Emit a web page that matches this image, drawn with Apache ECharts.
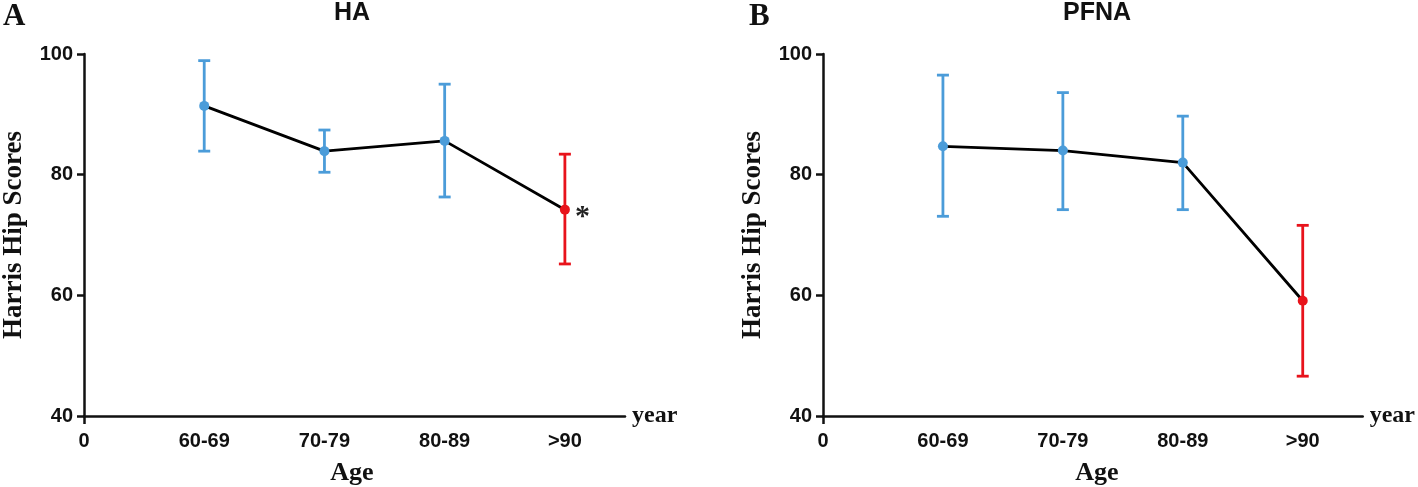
<!DOCTYPE html>
<html>
<head>
<meta charset="utf-8">
<script src="https://cdn.jsdelivr.net/npm/echarts@6/dist/echarts.min.js"></script>
<style>
html,body{margin:0;padding:0;background:#fff;}
#chart{width:1418px;height:487px;}
</style>
</head>
<body>
<div id="chart"></div>
<script>
// ---- data ----
const tickLabels = ['0', '60-69', '70-79', '80-89', '>90'];
const groupPos = [1, 2, 3, 4];
const haMean  = [91.4, 83.9, 85.6, 74.2];
const haUpper = [98.9, 87.4, 95.0, 83.4];
const haLower = [83.9, 80.4, 76.3, 65.2];
const pfnaMean  = [84.7, 84.0, 82.0, 59.1];
const pfnaUpper = [96.5, 93.6, 89.7, 71.6];
const pfnaLower = [73.1, 74.2, 74.2, 46.6];
const yTicks = [40, 60, 80, 100];
const significant = [false, false, false, true];

const BLUE = '#4b9cd9';
const RED = '#e8131b';
const pointColor = i => (i === 3 ? RED : BLUE);

const sansBold = 'Liberation Sans, Arial, sans-serif';
const serif = 'Liberation Serif, Times New Roman, serif';

function xAxisFor(gi) {
  return {
    type: 'value', gridIndex: gi, min: 0, max: 4.5, interval: 1,
    name: 'year', nameLocation: 'end', nameGap: 7,
    nameTextStyle: { fontFamily: serif, fontWeight: 'bold', fontSize: 24, color: '#111', verticalAlign: 'middle', padding: [4, 0, 0, 0] },
    axisLine: { show: true, onZero: false, lineStyle: { color: '#111', width: 2.5 } },
    axisTick: { show: true, customValues: [0], length: 8, inside: false, lineStyle: { color: '#111', width: 2.5 } },
    axisLabel: {
      customValues: [0, 1, 2, 3, 4],
      formatter: v => tickLabels[Math.round(v)] ?? '',
      fontFamily: sansBold, fontWeight: 'bold', fontSize: 20, color: '#111', margin: 15
    },
    splitLine: { show: false }
  };
}
function yAxisFor(gi) {
  return {
    type: 'value', gridIndex: gi, min: 40, max: 100, interval: 20,
    name: 'Harris Hip Scores', nameLocation: 'middle', nameRotate: 90, nameGap: 56,
    nameTextStyle: { fontFamily: serif, fontWeight: 'bold', fontSize: 27, color: '#111' },
    axisLine: { show: true, lineStyle: { color: '#111', width: 2.5 } },
    axisTick: { show: true, length: 7, lineStyle: { color: '#111', width: 2.5 } },
    axisLabel: {
      customValues: yTicks,
      fontFamily: sansBold, fontWeight: 'bold', fontSize: 20, color: '#111', margin: 11
    },
    splitLine: { show: false }
  };
}

function errorSeries(gi, lower, upper) {
  return {
    type: 'custom', xAxisIndex: gi, yAxisIndex: gi, z: 2,
    data: groupPos.map((x, i) => [x, lower[i], upper[i], i]),
    renderItem: (params, api) => {
      const x = api.value(0);
      const lo = api.coord([x, api.value(1)]);
      const hi = api.coord([x, api.value(2)]);
      const color = pointColor(api.value(3));
      const hw = 6;
      const style = { stroke: color, lineWidth: 2.8 };
      return {
        type: 'group',
        children: [
          { type: 'line', shape: { x1: lo[0], y1: lo[1], x2: hi[0], y2: hi[1] }, style },
          { type: 'line', shape: { x1: hi[0] - hw, y1: hi[1], x2: hi[0] + hw, y2: hi[1] }, style },
          { type: 'line', shape: { x1: lo[0] - hw, y1: lo[1], x2: lo[0] + hw, y2: lo[1] }, style }
        ]
      };
    }
  };
}
function meanSeries(gi, mean, marks) {
  return {
    type: 'line', xAxisIndex: gi, yAxisIndex: gi, z: 3,
    symbol: 'circle', symbolSize: 10,
    lineStyle: { color: '#000', width: 2.8 },
    data: groupPos.map((x, i) => ({
      value: [x, mean[i]],
      itemStyle: { color: pointColor(i) },
      label: marks && marks[i] ? {
        show: true, position: 'right', distance: 5, formatter: '*',
        fontFamily: serif, fontWeight: 'bold', fontSize: 30, color: '#222', offset: [0, 8]
      } : { show: false }
    })),
    animation: false
  };
}

const chart = echarts.init(document.getElementById('chart'));
chart.setOption({
  animation: false,
  backgroundColor: '#fff',
  grid: [
    { left: 80, top: 54, width: 545, height: 362, containLabel: false },
    { left: 823, top: 54, width: 544, height: 362, containLabel: false }
  ],
  xAxis: [xAxisFor(0), xAxisFor(1)],
  yAxis: [yAxisFor(0), yAxisFor(1)],
  graphic: [
    { type: 'text', left: 3, top: 1, style: { text: 'A', font: 'bold 31px ' + serif, fill: '#111' } },
    { type: 'text', left: 749, top: 1, style: { text: 'B', font: 'bold 31px ' + serif, fill: '#111' } },
    { type: 'text', x: 352, y: 13, style: { text: 'HA', font: 'bold 25px ' + sansBold, fill: '#111', textAlign: 'center', textVerticalAlign: 'middle' } },
    { type: 'text', x: 1097, y: 13, style: { text: 'PFNA', font: 'bold 25px ' + sansBold, fill: '#111', textAlign: 'center', textVerticalAlign: 'middle' } },
    { type: 'text', x: 352, y: 473, style: { text: 'Age', font: 'bold 26px ' + serif, fill: '#111', textAlign: 'center', textVerticalAlign: 'middle' } },
    { type: 'text', x: 1097, y: 473, style: { text: 'Age', font: 'bold 26px ' + serif, fill: '#111', textAlign: 'center', textVerticalAlign: 'middle' } }
  ],
  series: [
    errorSeries(0, haLower, haUpper),
    meanSeries(0, haMean, significant),
    errorSeries(1, pfnaLower, pfnaUpper),
    meanSeries(1, pfnaMean, null)
  ]
});
</script>
</body>
</html>
